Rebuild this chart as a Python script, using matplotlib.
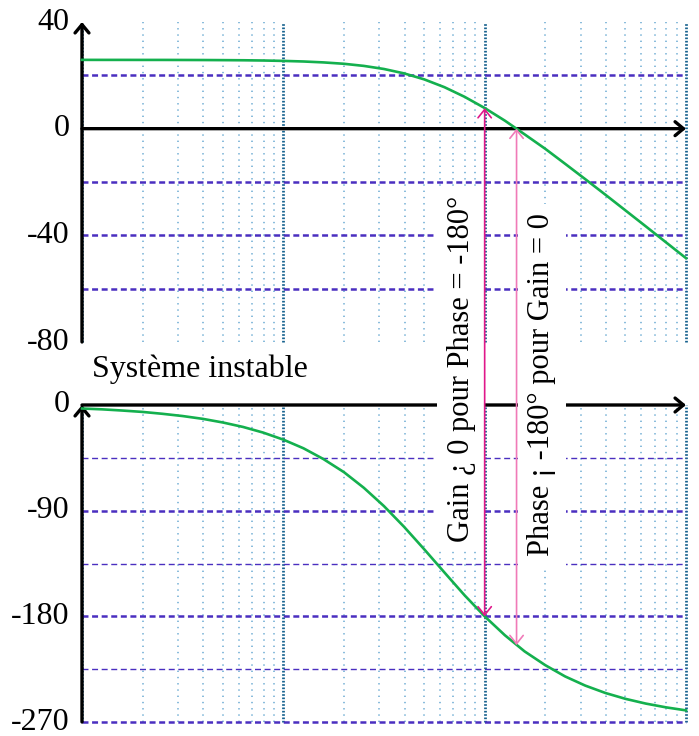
import matplotlib.pyplot as plt
from matplotlib.patches import ConnectionPatch

plt.rcParams['font.family'] = ['Liberation Serif', 'DejaVu Serif']
plt.rcParams['lines.scale_dashes'] = False

# pulsations relevees (rad/s), un point tous les 1/10 de decade
w = [0.01, 0.0126, 0.0158, 0.02, 0.0251, 0.0316, 0.0398, 0.0501, 0.0631, 0.0794,
     0.1, 0.126, 0.158, 0.2, 0.251, 0.316, 0.398, 0.501, 0.631, 0.794,
     1.0, 1.26, 1.58, 2.0, 2.51, 3.16, 3.98, 5.01, 6.31, 7.94, 10.0]
# gain en dB
gain = [25.8, 25.79, 25.79, 25.78, 25.78, 25.76, 25.74, 25.7, 25.65, 25.56,
        25.41, 25.19, 24.85, 24.33, 23.54, 22.38, 20.73, 18.48, 15.56, 11.96,
        7.74, 3.0, -2.14, -7.56, -13.18, -18.94, -24.78, -30.69, -36.62, -42.58, -48.56]
# phase en degres
phase = [-3.0, -3.7, -4.7, -5.9, -7.5, -9.4, -11.8, -14.9, -18.7, -23.5,
         -29.5, -36.9, -46.0, -57.2, -70.5, -86.1, -103.8, -122.9, -142.6, -162.0,
         -180.0, -196.1, -209.9, -221.6, -231.2, -239.0, -245.3, -250.3, -254.3, -257.5, -260.1]

gain_ticks = [40, 0, -40, -80]
phase_ticks = [0, -90, -180, -270]

# points des deux fleches
w_phase180 = 1.0     # pulsation ou phase = -180
gain_at_180 = 7.7
w_gain0 = 1.44       # pulsation ou gain = 0
phase_at_g0 = -204.5

fig = plt.figure(figsize=(6.99, 7.36), dpi=100)
ax1 = fig.add_axes([82 / 699, 394 / 736, 604 / 699, 320 / 736])
ax2 = fig.add_axes([82 / 699, 14 / 736, 604 / 699, 317 / 736])

decades = [0.01, 0.1, 1, 10]
minor = [m * d for d in decades[:-1] for m in range(2, 10)]

axis_arrow = dict(arrowstyle='->,head_length=0.6,head_width=0.5', lw=2.4,
                  color='black', shrinkA=0, shrinkB=0)
dash_col = '#4a2fc0'

for ax, (y0, y1), ticks in ((ax1, (-80, 40), gain_ticks), (ax2, (-270, 0), phase_ticks)):
    ax.set_xscale('log')
    ax.set_xlim(0.01, 10)
    ax.set_ylim(y0, y1)
    ax.axis('off')
    # grille verticale
    ax.vlines(minor, y0, y1, colors='#6aaad2', lw=1.1, linestyles=(0, (1.0, 3.5)), clip_on=False)
    ax.vlines(decades, y0, y1, colors='#17628f', lw=2.0, linestyles=(0, (1.2, 1.2)), clip_on=False)
    # etiquettes
    for t in ticks:
        ax.annotate(str(t), xy=(0.01, t), xytext=(-9, 0), textcoords='offset points',
                    ha='right', va='center', fontsize=23, annotation_clip=False)

# lignes horizontales en tirets
ax1.hlines([20, -20, -40, -60], 0.01, 10, colors=dash_col, lw=1.8,
           linestyles=(0, (4.3, 2.6)), clip_on=False)
ax2.hlines([-90, -180, -270], 0.01, 10, colors=dash_col, lw=1.8,
           linestyles=(0, (4.3, 2.6)), clip_on=False)
ax2.hlines([-45, -135, -225], 0.01, 10, colors=dash_col, lw=1.0,
           linestyles=(0, (4.3, 2.6)), clip_on=False)

# axes avec fleches
ax1.annotate('', xy=(0.01, 40), xytext=(0.01, -80), arrowprops=axis_arrow, annotation_clip=False)
ax1.annotate('', xy=(10, 0), xytext=(0.01, 0), arrowprops=axis_arrow, annotation_clip=False)
ax2.annotate('', xy=(0.01, 0), xytext=(0.01, -270), arrowprops=axis_arrow, annotation_clip=False)
ax2.annotate('', xy=(10, 0), xytext=(0.01, 0), arrowprops=axis_arrow, annotation_clip=False)

# courbes
ax1.plot(w, gain, color='#14b04e', lw=1.9, clip_on=False, zorder=5)
ax2.plot(w, phase, color='#14b04e', lw=1.9, clip_on=False, zorder=5)

fig.text(92 / 699, 1 - 369 / 736, 'Système instable', ha='left', va='center', fontsize=23)

box = dict(facecolor='white', edgecolor='none', boxstyle='square,pad=0.3')
fig.text(461 / 699, 1 - 369 / 736, 'Gain ¿ 0 pour Phase = -180°', rotation=90,
         ha='center', va='center', fontsize=22, bbox=box, zorder=4)
fig.text(542 / 699, 1 - 385 / 736, 'Phase ¡ -180° pour Gain = 0', rotation=90,
         ha='center', va='center', fontsize=22, bbox=box, zorder=4)

# fleches de marge
for (wx, ya, yb, col) in ((w_phase180, gain_at_180, -180, '#e0188a'),
                          (w_gain0, 0, phase_at_g0, '#f07ab8')):
    con = ConnectionPatch(xyA=(wx, ya), coordsA=ax1.transData,
                          xyB=(wx, yb), coordsB=ax2.transData,
                          arrowstyle='<->,head_length=0.5,head_width=0.4',
                          mutation_scale=12, color=col, lw=1.2,
                          shrinkA=0, shrinkB=0, zorder=6)
    fig.add_artist(con)

fig.savefig('out.png', dpi=100)
